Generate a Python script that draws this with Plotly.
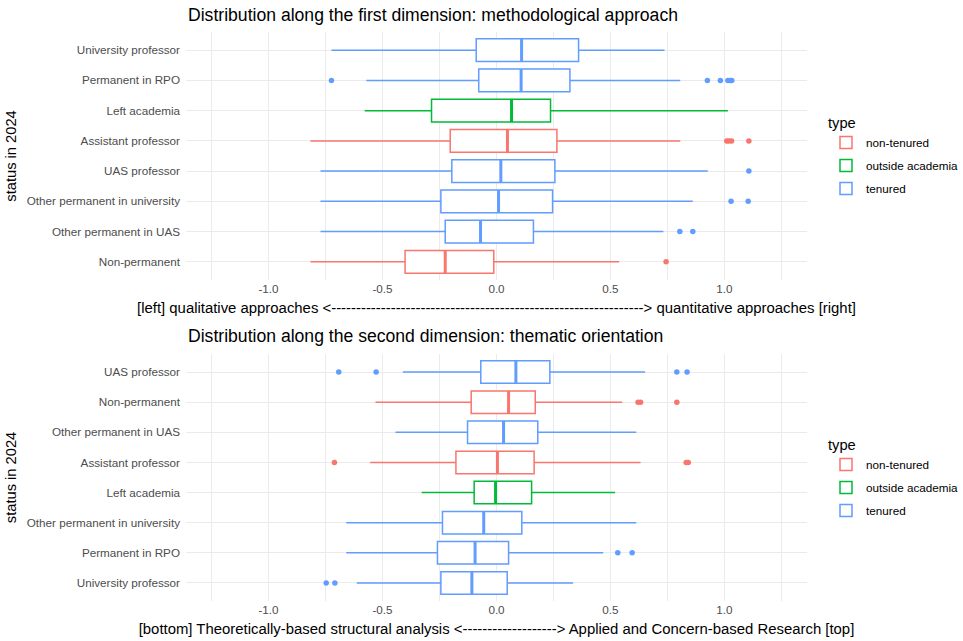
import plotly.graph_objects as go

# ---------------- data ----------------
types = ["non-tenured", "outside academia", "tenured"]
type_colors = {"non-tenured": "#F8766D", "outside academia": "#00BA38", "tenured": "#619CFF"}

# Panel 1: first dimension (top to bottom order)
cats1 = ["University professor", "Permanent in RPO", "Left academia", "Assistant professor",
         "UAS professor", "Other permanent in university", "Other permanent in UAS", "Non-permanent"]
type1 = ["tenured", "tenured", "outside academia", "non-tenured",
         "tenured", "tenured", "tenured", "non-tenured"]
lo1 = [-0.724, -0.571, -0.578, -0.816, -0.772, -0.772, -0.772, -0.816]
q1_1 = [-0.089, -0.078, -0.285, -0.203, -0.196, -0.244, -0.225, -0.401]
med1 = [0.110, 0.108, 0.066, 0.048, 0.019, 0.009, -0.070, -0.225]
q3_1 = [0.360, 0.322, 0.237, 0.265, 0.256, 0.246, 0.162, -0.012]
hi1 = [0.737, 0.806, 1.015, 0.806, 0.927, 0.861, 0.732, 0.538]
out1 = [[], [-0.724, 0.925, 0.982, 1.015, 1.025, 1.032], [], [1.010, 1.019, 1.031, 1.107],
        [1.107], [1.029, 1.104], [0.804, 0.861], [0.744]]

# Panel 2: second dimension (top to bottom order)
cats2 = ["UAS professor", "Non-permanent", "Other permanent in UAS", "Assistant professor",
         "Left academia", "Other permanent in university", "Permanent in RPO", "University professor"]
type2 = ["tenured", "non-tenured", "tenured", "non-tenured",
         "outside academia", "tenured", "tenured", "tenured"]
lo2 = [-0.411, -0.531, -0.443, -0.554, -0.328, -0.659, -0.659, -0.613]
q1_2 = [-0.069, -0.111, -0.127, -0.178, -0.098, -0.237, -0.259, -0.244]
med2 = [0.085, 0.053, 0.031, 0.004, -0.004, -0.056, -0.094, -0.108]
q3_2 = [0.234, 0.170, 0.181, 0.165, 0.154, 0.111, 0.053, 0.047]
hi2 = [0.652, 0.551, 0.613, 0.632, 0.520, 0.613, 0.468, 0.336]
out2 = [[-0.692, -0.528, 0.791, 0.836], [0.621, 0.632, 0.791], [], [-0.711, 0.832, 0.841],
        [], [], [0.532, 0.595], [-0.747, -0.709]]

titles = ["Distribution along the first dimension: methodological approach",
          "Distribution along the second dimension: thematic orientation"]
xtitles = ["[left] qualitative approaches <" + "-" * 63 + "> quantitative approaches [right]",
           "[bottom] Theoretically-based structural analysis <" + "-" * 19 + "> Applied and Concern-based Research [top]"]
ytitle = "status in 2024"
xticks = [-1.0, -0.5, 0.0, 0.5, 1.0]
xticklabels = ["-1.0", "-0.5", "0.0", "0.5", "1.0"]

# ---------------- figure ----------------
W, H = 963, 641
FONT = "Liberation Sans, Arial, sans-serif"
fig = go.Figure()

panels = [
    dict(cats=cats1, types=type1, lo=lo1, q1=q1_1, med=med1, q3=q3_1, hi=hi1, out=out1,
         xa="x", ya="y", legend="legend"),
    dict(cats=cats2, types=type2, lo=lo2, q1=q1_2, med=med2, q3=q3_2, hi=hi2, out=out2,
         xa="x2", ya="y2", legend="legend2"),
]

shapes = []
for p in panels:
    order = list(reversed(p["cats"]))  # bottom-to-top for plotly
    for t in types:
        idx = [i for i, tt in enumerate(p["types"]) if tt == t]
        col = type_colors[t]
        fig.add_trace(go.Box(
            orientation="h",
            y=[p["cats"][i] for i in idx],
            q1=[p["q1"][i] for i in idx],
            median=[p["med"][i] for i in idx],
            q3=[p["q3"][i] for i in idx],
            lowerfence=[p["lo"][i] for i in idx],
            upperfence=[p["hi"][i] for i in idx],
            name=t, legendgroup=t, legend=p["legend"],
            line=dict(color=col, width=1.5), fillcolor="white",
            whiskerwidth=0, width=0.75, boxpoints=False,
            xaxis=p["xa"], yaxis=p["ya"], hoverinfo="skip",
        ))
        ox, oy = [], []
        for i in idx:
            for v in p["out"][i]:
                ox.append(v)
                oy.append(p["cats"][i])
        if ox:
            fig.add_trace(go.Scatter(
                x=ox, y=oy, mode="markers", marker=dict(color=col, size=5.5),
                showlegend=False, legendgroup=t, xaxis=p["xa"], yaxis=p["ya"], hoverinfo="skip",
            ))
        # thicker median line like ggplot
        for i in idx:
            k = order.index(p["cats"][i])
            shapes.append(dict(type="line", xref=p["xa"], yref=p["ya"],
                               x0=p["med"][i], x1=p["med"][i], y0=k - 0.375, y1=k + 0.375,
                               line=dict(color=col, width=3), layer="above"))

L, R = 186, 807
top1, bot1 = 32, 280
top2, bot2 = 354, 601

def ydom(top, bot):
    return [1 - bot / H, 1 - top / H]

axis_common = dict(showline=False, zeroline=False, ticks="", gridcolor="#EBEBEB", gridwidth=1.1)
xcommon = dict(axis_common, range=[-1.362, 1.362], tickvals=xticks, ticktext=xticklabels,
               tickfont=dict(family=FONT, size=11.7, color="#4D4D4D"),
               minor=dict(tickvals=[-1.25, -0.75, -0.25, 0.25, 0.75, 1.25], showgrid=True,
                          gridcolor="#EBEBEB", gridwidth=0.6, ticks=""),
               title_font=dict(family=FONT, size=14.9, color="black"), title_standoff=8)
ycommon = dict(axis_common, range=[-0.6, 7.6], type="category", categoryorder="array",
               tickfont=dict(family=FONT, size=11.7, color="#4D4D4D"),
               ticklabelstandoff=5,
               title_font=dict(family=FONT, size=14.7, color="black"), title_standoff=6)

leg_common = dict(xref="container", yref="container", xanchor="left", yanchor="top",
                  bgcolor="rgba(0,0,0,0)",
                  title=dict(text="type", font=dict(family=FONT, size=14.7, color="black")),
                  font=dict(family=FONT, size=11.7, color="black"), tracegroupgap=4)

fig.update_layout(
    width=W, height=H,
    margin=dict(l=L, r=W - R, t=0, b=0, autoexpand=False),
    paper_bgcolor="white", plot_bgcolor="white",
    boxmode="overlay",
    font=dict(family=FONT, color="black"),
    xaxis=dict(xcommon, domain=[0, 1], anchor="y", title_text=xtitles[0]),
    yaxis=dict(ycommon, domain=ydom(top1, bot1), anchor="x",
               categoryarray=list(reversed(cats1)), title_text=ytitle),
    xaxis2=dict(xcommon, domain=[0, 1], anchor="y2", title_text=xtitles[1]),
    yaxis2=dict(ycommon, domain=ydom(top2, bot2), anchor="x2",
                categoryarray=list(reversed(cats2)), title_text=ytitle),
    legend=dict(leg_common, x=826 / W, y=1 - 109 / H),
    legend2=dict(leg_common, x=826 / W, y=1 - 431 / H),
    shapes=shapes,
    annotations=[
        dict(text=titles[0], xref="paper", yref="paper", x=0, y=1 - 15 / H,
             xanchor="left", yanchor="middle", showarrow=False,
             font=dict(family=FONT, size=17.6, color="black")),
        dict(text=titles[1], xref="paper", yref="paper", x=0, y=1 - 336 / H,
             xanchor="left", yanchor="middle", showarrow=False,
             font=dict(family=FONT, size=17.6, color="black")),
    ],
)

fig.write_html("out.html")
